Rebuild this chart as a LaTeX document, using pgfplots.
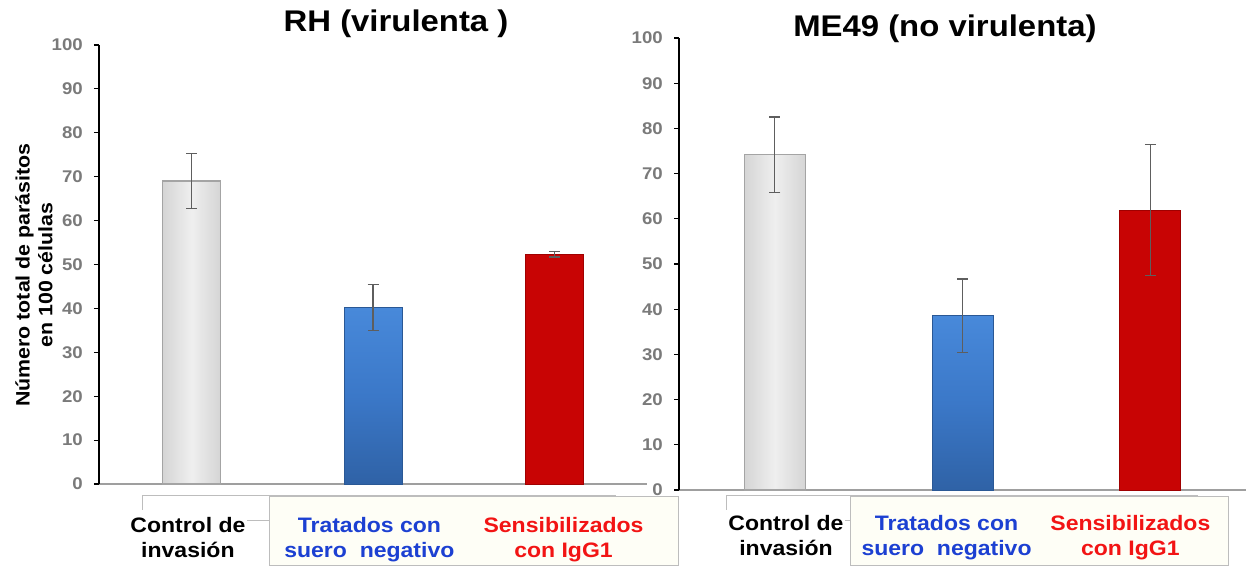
\documentclass[border=0pt]{standalone}
\usepackage{fontspec}
\setmainfont[FakeStretch=1.1]{Liberation Sans}
\usepackage{pgfplots}
\pgfplotsset{compat=1.18}
\definecolor{tickgray}{HTML}{7A7A7A}
\definecolor{errgray}{HTML}{5E5E5E}
\definecolor{lblblue}{HTML}{1C40D2}
\definecolor{lblred}{HTML}{F21414}
\definecolor{bargray}{HTML}{E4E4E4}
\definecolor{bargrayedge}{HTML}{A4A4A4}
\definecolor{bluetop}{HTML}{4889DA}
\definecolor{bluemid}{HTML}{3B78C8}
\definecolor{bluebot}{HTML}{2F62A6}
\definecolor{redfill}{HTML}{C80404}
\definecolor{rededge}{HTML}{A00000}
\definecolor{boxedge}{HTML}{BDBDBD}
\definecolor{ivory}{HTML}{FEFEF6}
\pgfplotsset{
  panel/.style={
    scale only axis, anchor=south west,
    xmin=-0.51, xmax=2.51, ymin=0, ymax=100,
    ytick={0,10,...,100},
    separate axis lines,
    axis x line*=bottom, axis y line*=left,
    x axis line style={draw=gray!75, line width=1.6bp, -},
    y axis line style={draw=black, line width=1.3bp, -},
    tick align=outside, major tick length=5bp,
    ytick style={draw=black, line width=1.1bp},
    xtick style={draw=none},
    /pgf/number format/assume math mode=true,
    yticklabel style={font=\fontsize{17}{17}\selectfont\bfseries, text=tickgray, inner sep=0pt, xshift=-11bp},
    xticklabel style={font=\fontsize{21}{25}\selectfont\bfseries, align=center, anchor=north, inner sep=0pt},
    xticklabels={{\color{black}Control de\\\color{black}invasión},{\color{lblblue}Tratados con\\\color{lblblue}suero\ \ negativo},{\color{lblred}Sensibilizados\\\color{lblred}con IgG1}},
    ybar, bar shift=0pt,
    clip=false,
  },
  errb/.style={error bars/.cd, y dir=both, y explicit,
    error bar style={draw=errgray, line width=1.2bp},
    error mark options={rotate=90, mark size=5.5bp, line width=1.2bp, draw=errgray}},
  graybar/.style={draw=bargrayedge, line width=1.5bp, left color=bargray!85!gray, right color=bargray!85!gray, middle color=bargray!60!white},
  bluebar/.style={draw=bluebot!90!black, line width=0.8bp, top color=bluetop, bottom color=bluebot, middle color=bluemid},
  redbar/.style={draw=rededge, line width=0.8bp, fill=redfill},
}
\begin{document}
\begin{tikzpicture}
\path[use as bounding box] (0bp,0bp) rectangle (1247bp,566bp);
% label boxes (left panel)
\fill[white] (142.5bp,45bp) rectangle (616bp,70bp);
\draw[boxedge, line width=1bp] (142.5bp,56bp) -- (142.5bp,70bp) -- (616bp,70bp);
\draw[boxedge, line width=1bp] (247bp,45bp) -- (269bp,45bp);
\draw[boxedge, line width=1bp, fill=ivory] (269bp,1bp) rectangle (678bp,69bp);
% label boxes (right panel)
\fill[white] (726bp,45bp) rectangle (1198bp,70bp);
\draw[boxedge, line width=1bp] (726bp,56bp) -- (726bp,70bp) -- (1198bp,70bp);
\draw[boxedge, line width=1bp] (845bp,45bp) -- (850bp,45bp);
\draw[boxedge, line width=1bp, fill=ivory] (850bp,1bp) rectangle (1228bp,69bp);

\begin{axis}[panel, width=548bp, height=439bp, at={(99bp,82bp)},
  bar width=58bp,
  xtick={-0.02,0.98,2.05},
  xticklabel style={yshift=-28bp},
  title={RH (virulenta )},
  title style={at={(axis description cs:0.542,1.018)}, anchor=base, font=\fontsize{30}{30}\selectfont\bfseries, inner sep=0pt},
  ylabel={Número total de parásitos\\en 100 células},
  ylabel style={at={(axis description cs:-0.1186,0.476)}, anchor=center, align=center, font=\fontsize{19.5}{23}\selectfont\bfseries, inner sep=0pt},
]
\addplot[graybar, errb] coordinates {(0,69) +- (0,6.3)};
\addplot[bluebar, errb] coordinates {(1,40.2) +- (0,5.3)};
\addplot[redbar, errb] coordinates {(2,52.3) +- (0,0.6)};
\end{axis}

\begin{axis}[panel, width=567bp, height=452bp, at={(679bp,76bp)},
  bar width=61bp,
  xtick={0.06,0.915,1.894},
  xticklabel style={yshift=-20bp},
  title={ME49 (no virulenta)},
  title style={at={(axis description cs:0.469,0.991)}, anchor=base, font=\fontsize{30}{30}\selectfont\bfseries, inner sep=0pt},
]
\addplot[graybar, errb] coordinates {(0,74.2) +- (0,8.3)};
\addplot[bluebar, errb] coordinates {(1,38.6) +- (0,8.1)};
\addplot[redbar, errb] coordinates {(2,61.9) +- (0,14.5)};
\end{axis}
\end{tikzpicture}
\end{document}
